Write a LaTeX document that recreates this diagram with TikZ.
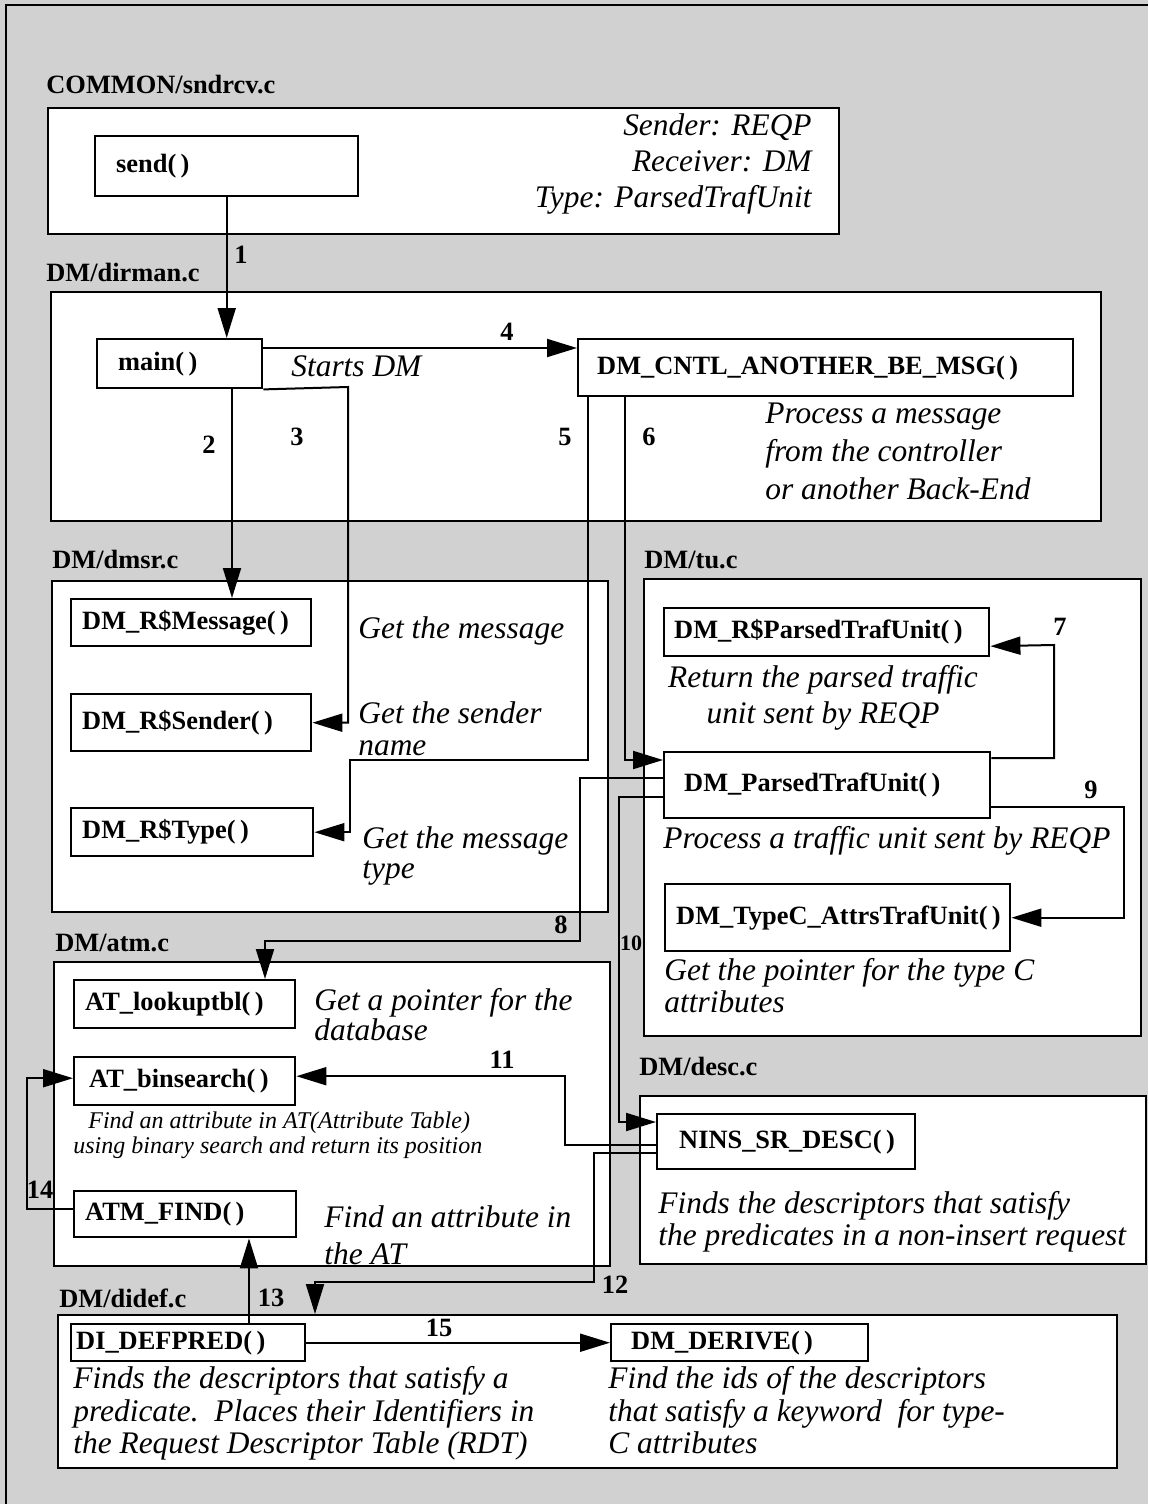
\documentclass[tikz,border=0pt]{standalone}
\usepackage{fontspec}
\setmainfont{Liberation Serif}
\usetikzlibrary{arrows.meta,positioning}
\definecolor{stipple}{gray}{0.82}
\newcommand{\fnfont}{\fontsize{13.2}{15}\selectfont\bfseries}
\newcommand{\notefont}[1][18]{\fontsize{15.7}{#1}\selectfont\itshape}
\newcommand{\smallnote}{\fontsize{12}{12.5}\selectfont\itshape}

\tikzset{
  modbox/.style={draw, fill=white, line width=1.2pt, anchor=north west, inner sep=0pt},
  fnbox/.style={draw, fill=white, line width=1.2pt, anchor=north west, align=left,
    inner ysep=0pt, font=\fnfont},
  modlbl/.style={anchor=west, inner sep=0pt, font=\fnfont},
  numlbl/.style={inner sep=0pt, font=\fnfont},
  note/.style={anchor=north west, inner sep=0pt, align=left, font=\notefont},
  conn/.style={line width=1pt, -{Triangle[length=15pt,width=9pt]}}
}

\begin{document}
\begin{tikzpicture}[x=0.5pt, y=-0.5pt]
  \useasboundingbox (0,0) rectangle (1148,1504);
  % Stippled page and frame
  \fill[stipple] (0,0) rectangle (1148,1504);
  \draw[line width=1pt] (6,1504) -- (6,5) -- (1148,5);

  % Source files
  \node[modbox, minimum width=395.5pt, minimum height=63pt] (common) at (47,107) {};
  \node[modbox, minimum width=525pt, minimum height=114.5pt] (dirman) at (50,291) {};
  \node[modbox, minimum width=278pt, minimum height=165.5pt] (dmsr) at (51,580) {};
  \node[modbox, minimum width=248.5pt, minimum height=228.5pt] (tu) at (643,578) {};
  \node[modbox, minimum width=278pt, minimum height=152pt] (atm) at (53,961) {};
  \node[modbox, minimum width=253pt, minimum height=84pt] (desc) at (639,1095) {};
  \node[modbox, minimum width=529.5pt, minimum height=76.5pt] (didef) at (57,1314) {};

  \node[modlbl] (common-l) at (46,85) {COMMON/sndrcv.c};
  \node[modlbl] (dirman-l) at (46,273) {DM/dirman.c};
  \node[modlbl] (dmsr-l) at (52,560) {DM/dmsr.c};
  \node[modlbl] (tu-l) at (644,560) {DM/tu.c};
  \node[modlbl] (atm-l) at (55,943) {DM/atm.c};
  \node[modlbl] (desc-l) at (639,1067) {DM/desc.c};
  \node[modlbl] (didef-l) at (59,1298) {DM/didef.c};

  % Functions
  \node[fnbox, text width=110.5pt, inner xsep=10.5pt, minimum height=30pt] (send) at (94,135) {send(\,)};
  \node[fnbox, text width=61.5pt, inner xsep=10.5pt, minimum height=24.5pt] (main) at (96,338) {main(\,)};
  \node[fnbox, text width=228.5pt, inner xsep=9.5pt, minimum height=28.5pt] (cntl) at (577,338) {DM\_CNTL\_ANOTHER\_BE\_MSG(\,)};
  \node[fnbox, text width=109pt, inner xsep=5.5pt, minimum height=23.5pt] (msg) at (70,598) {DM\_R\$Message(\,)};
  \node[fnbox, text width=109pt, inner xsep=5.5pt, minimum height=28.5pt] (sender) at (70,693) {DM\_R\$Sender(\,)};
  \node[fnbox, text width=110pt, inner xsep=5.5pt, minimum height=24pt] (type) at (70,807) {DM\_R\$Type(\,)};
  \node[fnbox, text width=152.5pt, inner xsep=5pt, minimum height=24pt] (rparsed) at (663,607) {DM\_R\$ParsedTrafUnit(\,)};
  \node[fnbox, text width=143pt, inner xsep=10pt, minimum height=33pt] (parsed) at (663,751) {DM\_ParsedTrafUnit(\,)};
  \node[fnbox, text width=161.5pt, inner xsep=5.5pt, minimum height=33.5pt] (typec) at (664,883) {DM\_TypeC\_AttrsTrafUnit(\,)};
  \node[fnbox, text width=99.5pt, inner xsep=5.5pt, minimum height=24pt] (lookup) at (73,979) {AT\_lookuptbl(\,)};
  \node[fnbox, text width=95.5pt, inner xsep=7.5pt, minimum height=24pt] (binsearch) at (73,1056) {AT\_binsearch(\,)};
  \node[fnbox, text width=100pt, inner xsep=5.5pt, minimum height=23pt] (atmfind) at (73,1190) {ATM\_FIND(\,)};
  \node[fnbox, text width=107pt, inner xsep=11pt, minimum height=27.5pt] (nins) at (656,1113) {NINS\_SR\_DESC(\,)};
  \node[fnbox, text width=112pt, inner xsep=2.5pt, minimum height=18.5pt] (defpred) at (70,1323) {DI\_DEFPRED(\,)};
  \node[fnbox, text width=108.5pt, inner xsep=10pt, minimum height=18.5pt] (derive) at (610,1323) {DM\_DERIVE(\,)};

  % Notes
  \node[note, anchor=north east, align=right] (send-n) at (812,113) {Sender: REQP\\Receiver: DM\\Type: ParsedTrafUnit};
  \node[note] (main-n) at (291,355) {Starts DM};
  \node[note, font={\notefont[19]}] (cntl-n) at (765,403) {Process a message\\from the controller\\or another Back-End};
  \node[note] (msg-n) at (358,616) {Get the message};
  \node[note, font={\notefont[16]}] (sender-n) at (358,701) {Get the sender\\name};
  \node[note, font={\notefont[15]}] (type-n) at (362,826) {Get the message\\type};
  \node[note, anchor=north, align=center] (rparsed-n) at (823,665) {Return the parsed traffic\\unit sent by REQP};
  \node[note] (parsed-n) at (663,826) {Process a traffic unit sent by REQP};
  \node[note, font={\notefont[16]}] (typec-n) at (664,958) {Get the pointer for the type C\\attributes};
  \node[note, font={\notefont[15]}] (lookup-n) at (314,988) {Get a pointer for the\\database};
  \node[note, font=\smallnote] (binsearch-n) at (73,1111) {\hspace*{7.5pt}Find an attribute in AT(Attribute Table)\\using binary search and return its position};
  \node[note, font={\notefont[18.5]}] (atmfind-n) at (324,1205) {Find an attribute in\\the AT};
  \node[note, font={\notefont[16]}] (nins-n) at (658,1191) {Finds the descriptors that satisfy\\the predicates in a non-insert request};
  \node[note, font={\notefont[16.25]}] (defpred-n) at (73,1366) {Finds the descriptors that satisfy a\\predicate.\ \ Places their Identifiers in\\the Request Descriptor Table (RDT)};
  \node[note, font={\notefont[16.25]}] (derive-n) at (608,1366) {Find the ids of the descriptors\\that satisfy a keyword\ \ for type-\\C attributes};

  % Calls
  \draw[conn] (send.south) -- (send.south |- main.north);
  \draw[conn] ([xshift=68pt]main.south west) -- ([xshift=68pt]main.south west |- msg.north);
  \draw[conn] (main.south east) -- (348,387) |- (sender.east);
  \draw[conn] ([yshift=-5pt]main.north east) -- ([yshift=-5pt]cntl.north west);
  \draw[conn] ([xshift=5.5pt]cntl.south west) |- (350,760) |- (type.east);
  \draw[conn] ([xshift=24pt]cntl.south west) |- ([yshift=-4.5pt]parsed.north west);
  \draw[conn] ([yshift=-3.5pt]parsed.north east) -| (1054,645) -- ([yshift=-7pt]rparsed.east);
  \draw[conn] ([yshift=-13.5pt]parsed.north west) -| (580,941) -| ([xshift=96pt]lookup.north west);
  \draw[conn] ([yshift=-28pt]parsed.north east) -| ([xshift=56.5pt]typec.east) -- (typec.east);
  \draw[conn] ([yshift=-23pt]parsed.north west) -| ([xshift=-18.5pt,yshift=-4.5pt]nins.north west) -- ([yshift=-4.5pt]nins.north west);
  \draw[conn] ([yshift=-16pt]nins.north west) -| ([xshift=134.5pt,yshift=2.5pt]binsearch.east) -- ([yshift=2.5pt]binsearch.east);
  \draw[conn] ([yshift=-20pt]nins.north west) -| (594,1282) -| ([xshift=129pt]didef.north west);
  \draw[conn] ([xshift=89.5pt]defpred.north west) -- ([xshift=89.5pt]defpred.north west |- atmfind.south);
  \draw[conn] ([yshift=2.5pt]atmfind.west) -- ++(-46,0) |- ([yshift=1.5pt]binsearch.west);
  \draw[conn] (defpred.east) -- (derive.west);

  % Call numbers
  \node[numlbl] (c1) at (241,255) {1};
  \node[numlbl] (c2) at (209,445) {2};
  \node[numlbl] (c3) at (297,437) {3};
  \node[numlbl] (c4) at (507,332) {4};
  \node[numlbl] (c5) at (565,437) {5};
  \node[numlbl] (c6) at (649,437) {6};
  \node[numlbl] (c7) at (1060,627) {7};
  \node[numlbl] (c8) at (561,925) {8};
  \node[numlbl] (c9) at (1091,790) {9};
  \node[numlbl, font=\fontsize{11}{13}\selectfont\bfseries] (c10) at (631,943) {10};
  \node[numlbl] (c11) at (502,1060) {11};
  \node[numlbl] (c12) at (615,1285) {12};
  \node[numlbl] (c13) at (271,1298) {13};
  \node[numlbl] (c14) at (40,1190) {14};
  \node[numlbl] (c15) at (439,1328) {15};
\end{tikzpicture}
\end{document}
